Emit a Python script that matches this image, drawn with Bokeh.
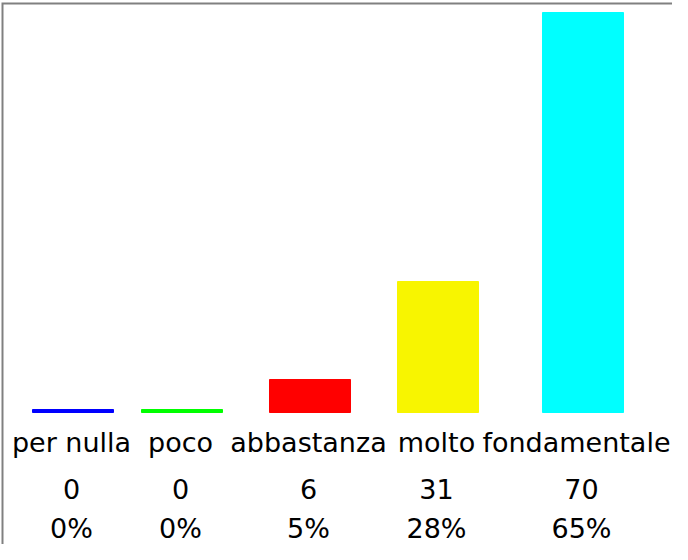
from bokeh.plotting import figure
from bokeh.models import Range1d, ColumnDataSource
from bokeh.embed import file_html
from bokeh.resources import INLINE
from bokeh.core.properties import value

# ---- data ----
categories = ["per nulla", "poco", "abbastanza", "molto", "fondamentale"]
counts = [0, 0, 6, 31, 70]
percents = ["0%", "0%", "5%", "28%", "65%"]
# drawn bar length, as % of the tallest bar
bar_length = [0, 0, 8.25, 32.75, 100]

# ---- layout / style ----
colors = ["#0000ff", "#00ff00", "#ff0000", "#f8f500", "#00ffff"]
col_centers = [72.5, 181.5, 309.5, 437.5, 582.5]   # px from left of figure
bar_w = 81
min_len = 0.75
FONT = "DejaVu Sans"

W, H = 672, 544
p = figure(width=W, height=H, output_backend="svg", toolbar_location=None,
           x_range=Range1d(0, W), y_range=Range1d(-33, 103),
           min_border=0, outline_line_color=None)
p.axis.visible = False
p.grid.visible = False
p.background_fill_color = "white"
p.border_fill_color = "white"

tops = [max(b, min_len) for b in bar_length]
src = ColumnDataSource(dict(x=col_centers, top=tops, color=colors,
                            cnt=[str(c) for c in counts], pct=percents,
                            tx=[c - 1.5 for c in col_centers]))
p.vbar(x="x", top="top", bottom=0, width=bar_w, color="color", source=src)

# border (left and top edges visible)
p.line([2, 2, 700], [-60, 102.25, 102.25], line_color="#808080", line_width=2,
       line_join="miter")

style = dict(text_font=value(FONT), text_font_size="27px", text_color="#000000",
             text_baseline="alphabetic")
# category labels: the last one is kept inside the window's right edge
lab_src = ColumnDataSource(dict(x=[c - 1.5 for c in col_centers[:-1]], t=categories[:-1]))
p.text(x="x", y=-7.5, text="t", text_align="center", source=lab_src, **style)
last_src = ColumnDataSource(dict(x=[W - 2], t=categories[-1:]))
p.text(x="x", y=-7.5, text="t", text_align="right", source=last_src, **style)

p.text(x="tx", y=-19, text="cnt", text_align="center", source=src, **style)
p.text(x="tx", y=-29, text="pct", text_align="center", source=src, **style)

open("out.html", "w").write(file_html(p, INLINE))
